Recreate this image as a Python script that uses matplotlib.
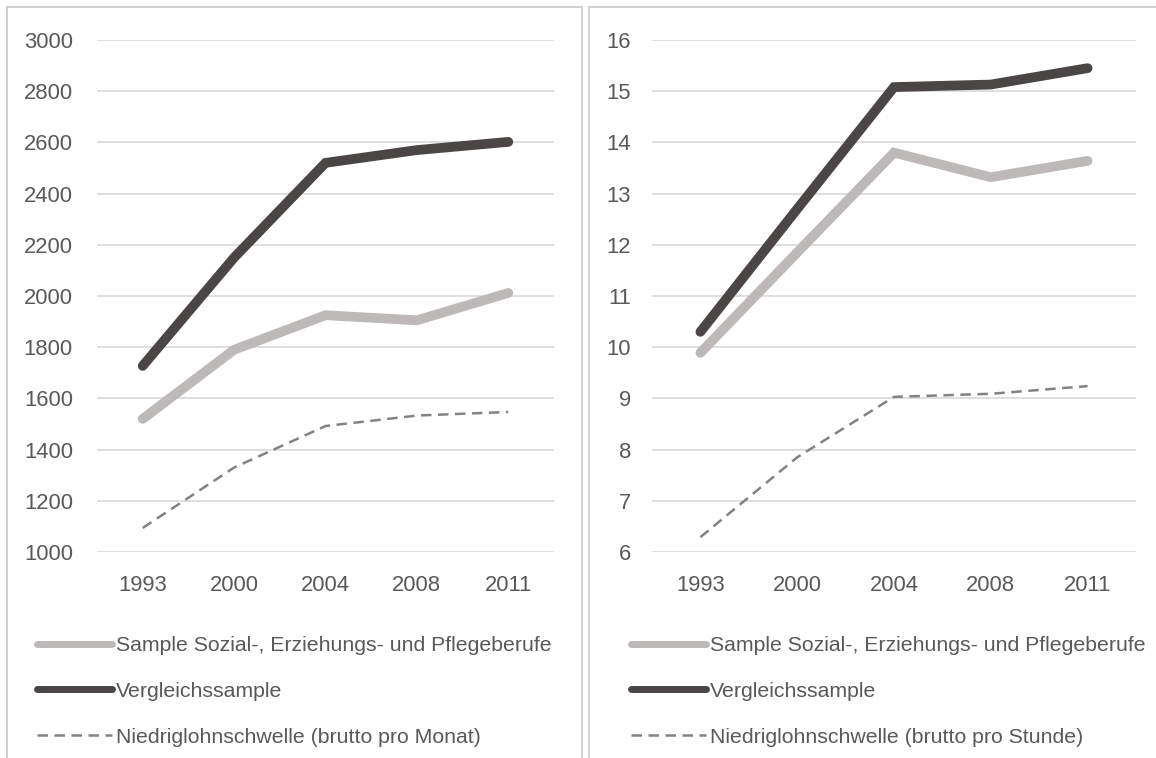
import matplotlib
matplotlib.use("Agg")
import matplotlib.pyplot as plt
from matplotlib.lines import Line2D
from matplotlib.patches import Rectangle

# Data
years = ["1993", "2000", "2004", "2008", "2011"]
monat_sozial = [1520, 1790, 1925, 1905, 2012]
monat_vergleich = [1727, 2150, 2520, 2570, 2602]
monat_schwelle = [1094, 1330, 1492, 1533, 1547]
stunde_sozial = [9.89, 11.85, 13.80, 13.32, 13.64]
stunde_vergleich = [10.30, 12.70, 15.08, 15.13, 15.45]
stunde_schwelle = [6.29, 7.85, 9.03, 9.09, 9.24]

monat_ticks = [1000, 1200, 1400, 1600, 1800, 2000, 2200, 2400, 2600, 2800, 3000]
stunde_ticks = [6, 7, 8, 9, 10, 11, 12, 13, 14, 15, 16]

label_sozial = "Sample Sozial-, Erziehungs- und Pflegeberufe"
label_vergleich = "Vergleichssample"
label_monat = "Niedriglohnschwelle (brutto pro Monat)"
label_stunde = "Niedriglohnschwelle (brutto pro Stunde)"

LIGHT = "#bdb9b8"
DARK = "#4a4645"
DASH = "#858181"
GRID = "#d9d9d9"
TEXT = "#595959"
FS = 15.8
LEG_FS = 15.35

plt.rcParams["font.family"] = ["Liberation Sans", "DejaVu Sans"]

W, H = 1156, 758
fig = plt.figure(figsize=(W / 100, H / 100), dpi=100)


def px_rect(x0, x1, y_top, y_bot):
    return [x0 / W, 1 - y_bot / H, (x1 - x0) / W, (y_bot - y_top) / H]


def panel(rect, s_vals, v_vals, t_vals, ticks, t_label, ytick_pad, leg_x):
    ax = fig.add_axes(rect)
    x = list(range(len(years)))
    ax.plot(x, t_vals, color=DASH, lw=1.8, dashes=(4.2, 2.6),
            dash_capstyle="butt", zorder=3)
    ax.plot(x, s_vals, color=LIGHT, lw=7.0, solid_capstyle="round",
            solid_joinstyle="miter", zorder=4)
    ax.plot(x, v_vals, color=DARK, lw=7.0, solid_capstyle="round",
            solid_joinstyle="miter", zorder=5)
    ax.set_xlim(-0.5, len(years) - 0.5)
    ax.set_ylim(ticks[0], ticks[-1])
    ax.set_xticks(x)
    ax.set_xticklabels(years)
    ax.set_yticks(ticks)
    ax.yaxis.grid(True, color=GRID, lw=1.2)
    ax.set_axisbelow(True)
    for sp in ax.spines.values():
        sp.set_visible(False)
    ax.tick_params(axis="x", length=0, pad=16.4, labelsize=FS, labelcolor=TEXT)
    ax.tick_params(axis="y", length=0, pad=ytick_pad, labelsize=FS, labelcolor=TEXT)

    handles = [
        Line2D([], [], color=LIGHT, lw=5.0, solid_capstyle="round"),
        Line2D([], [], color=DARK, lw=5.0, solid_capstyle="round"),
        Line2D([], [], color=DASH, lw=1.8, dashes=(4.2, 2.6), dash_capstyle="butt"),
    ]
    fig.legend(handles, [label_sozial, label_vergleich, t_label],
               loc="upper left", bbox_to_anchor=(leg_x / W, 1 - 636 / H),
               frameon=False, fontsize=LEG_FS, labelcolor=TEXT,
               handlelength=3.5, handletextpad=0.19, labelspacing=1.26,
               borderpad=0, borderaxespad=0)
    return ax


panel(px_rect(97, 554, 40, 552), monat_sozial, monat_vergleich, monat_schwelle,
      monat_ticks, label_monat, 17.3, 37)
panel(px_rect(652, 1136, 40, 552), stunde_sozial, stunde_vergleich, stunde_schwelle,
      stunde_ticks, label_stunde, 15.1, 631)

# Panel frames
for x0, x1 in [(7, 582), (589, 1170)]:
    fig.patches.append(Rectangle((x0 / W, -0.1), (x1 - x0) / W, 1.1 - 7 / H,
                                 transform=fig.transFigure, fill=False,
                                 edgecolor="#d0d0d0", lw=1.4, clip_on=False))

fig.savefig("out.png", dpi=100, facecolor="white")
